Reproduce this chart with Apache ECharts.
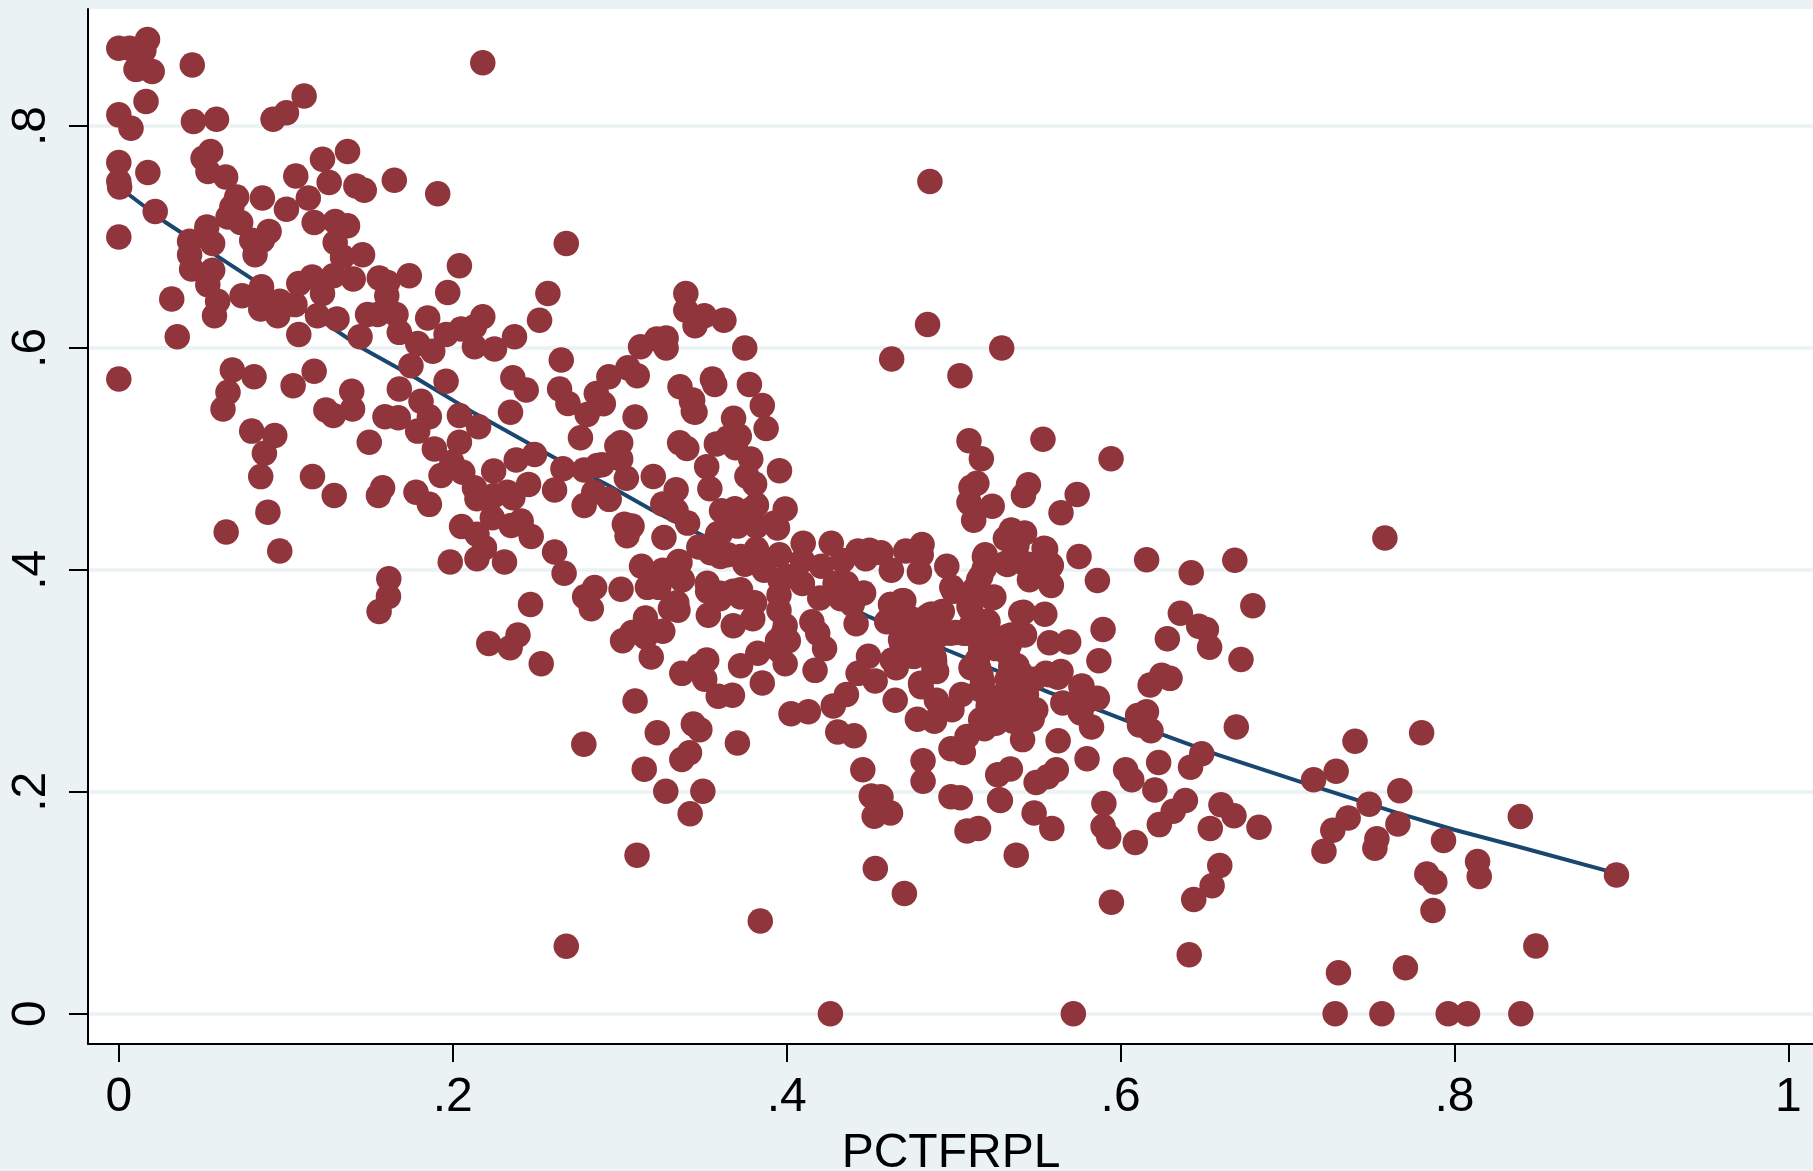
<!DOCTYPE html>
<html><head><meta charset="utf-8">
<style>html,body{margin:0;padding:0;background:#eaf2f3}#c{width:1813px;height:1171px}</style>
<script src="https://cdn.jsdelivr.net/npm/echarts@6/dist/echarts.min.js"></script>
</head><body><div id="c"></div>
<script>
const xTicks=[0,.2,.4,.6,.8,1];
const yTicks=[0,.2,.4,.6,.8];
const xTitle='PCTFRPL';
const fitLine=[[0,.745],[.0275,.7137],[.0596,.682],[.08,.662],[.124,.622],[.1456,.6],[.179,.572],[.2132,.541],[.2454,.514],[.2604,.5015],[.2925,.4767],[.3201,.4532],[.3498,.4308],[.4485,.3583],[.4967,.3273],[.5571,.2895],[.5895,.2722],[.6239,.2522],[.6583,.2332],[.7087,.2084],[.7661,.1808],[.7998,.1658],[.8378,.1507],[.897,.1265]];
const pointsUpperLeft=[[0,.87],[.0064,.87],[.0172,.878],[.015,.868],[.0103,.851],[.02,.849],[.044,.855],[.0163,.822],[0,.81],[.0073,.798],[.0447,.804],[.0585,.806],[.0924,.806],[.1004,.812],[.111,.827],[.218,.857],[0,.767],[0,.75],[.0005,.745],[.0174,.758],[.055,.777],[.0505,.771],[.0534,.759],[.064,.754],[.122,.77],[.137,.777],[.106,.755],[.126,.749],[.142,.746],[.147,.742],[.165,.751],[.191,.739],[.0706,.736],[.0677,.727],[.0654,.718],[.073,.713],[.086,.735],[.1004,.725],[.1135,.735],[.0218,.723],[0,.7],[.117,.713],[.1296,.714],[.137,.71],[.1296,.695],[.134,.682],[.09,.705],[.086,.697],[.0796,.697],[.0816,.684],[.0527,.709],[.0424,.696],[.0562,.694],[.0424,.684],[.0436,.671],[.0562,.67],[.0533,.657],[.0592,.642],[.0573,.629],[.146,.684],[.1404,.662],[.204,.674],[.268,.694],[.0317,.644],[.035,.61],[.0738,.647],[.0855,.655],[.085,.635],[.0952,.629],[.0964,.642],[.1055,.639],[.1078,.658],[.1158,.664],[.122,.649],[.1285,.665],[.119,.629],[.1307,.626],[.1078,.612],[.156,.663],[.161,.659],[.174,.665],[.1605,.647],[.166,.63],[.149,.63],[.155,.63],[.168,.614],[.1445,.61],[.185,.627],[.197,.65],[.179,.604],[.188,.597],[.196,.612],[.205,.617],[.213,.619],[.218,.628],[.213,.601],[.225,.599],[.237,.61],[.252,.625],[.257,.649],[.175,.584],[.168,.563],[.196,.57],[.236,.573],[.244,.562],[.265,.589],[.264,.563],[.269,.55],[.2805,.54],[.286,.559],[.2935,.574],[0,.572],[.068,.58],[.081,.574],[.0654,.56],[.0624,.545],[.117,.579],[.1044,.566],[.1395,.561],[.14,.545],[.124,.544],[.1285,.539],[.1594,.538],[.1674,.537],[.181,.552],[.186,.538],[.179,.525],[.204,.539],[.2155,.529],[.2346,.542],[.0796,.525],[.0934,.521],[.0872,.505],[.085,.484],[.15,.515],[.189,.509],[.204,.515],[.193,.485],[.206,.488],[.1995,.497],[.2245,.489],[.238,.499],[.249,.504],[.266,.491],[.2765,.519],[.2787,.49],[.2866,.494],[.261,.472],[.2787,.458],[.2454,.477],[.236,.465],[.2327,.47],[.2145,.464],[.213,.474],[.2247,.467],[.116,.484],[.129,.467],[.158,.474],[.1555,.467],[.178,.47],[.186,.459],[.0893,.452],[.0643,.434],[.0964,.417],[.2053,.439],[.2237,.447],[.2145,.432],[.235,.44],[.241,.444],[.247,.43],[.219,.42],[.2145,.41],[.1985,.407],[.231,.407],[.261,.416],[.2667,.397],[.1617,.392],[.1615,.376],[.1559,.3625]];
const pointsUpperMiddle=[[.3396,.649],[.3396,.634],[.3451,.62],[.3507,.629],[.3624,.625],[.3278,.609],[.3222,.608],[.3125,.601],[.3278,.6],[.3749,.6],[.3049,.582],[.3105,.575],[.3361,.565],[.3437,.553],[.3451,.542],[.3555,.572],[.3569,.567],[.3777,.567],[.4629,.59],[.4844,.621],[.5288,.6],[.5038,.575],[.4858,.75]];
const pointsMiddle=[[.2466,.3687],[.2391,.3412],[.2216,.3336],[.2344,.3298],[.253,.3153],[.285,.384],[.279,.3757],[.283,.365],[.3008,.3825],[.2785,.2429],[.268,.0608],[.3092,.5377],[.3006,.5146],[.2983,.5118],[.3006,.4998],[.304,.4825],[.3201,.4842],[.2894,.4946],[.2937,.4635],[.2845,.47],[.2902,.5496],[.3441,.5428],[.343,.552],[.3682,.5366],[.3854,.548],[.3877,.5273],[.3716,.5204],[.3647,.5187],[.3579,.5135],[.3693,.51],[.3359,.5146],[.3402,.5094],[.3785,.4998],[.3521,.493],[.354,.473],[.3762,.4843],[.3808,.4773],[.3957,.4894],[.3338,.4721],[.3258,.4594],[.3338,.4532],[.3407,.4421],[.3028,.441],[.3074,.4394],[.3044,.4308],[.3265,.4291],[.361,.4532],[.369,.455],[.3819,.4584],[.3705,.4394],[.3819,.4394],[.3991,.4549],[.3945,.4377],[.3587,.4325],[.3474,.4205],[.3544,.4153],[.3819,.4187],[.3647,.4135],[.375,.405],[.3865,.3997],[.3957,.4135],[.3361,.4066],[.3258,.3997],[.3131,.4032],[.3373,.3911],[.3166,.3842],[.3234,.3842],[.4099,.4239],[.4267,.4239],[.4094,.4084],[.4208,.4032],[.4335,.4084],[.4496,.4177],[.4427,.417],[.4473,.4101],[.4627,.3997],[.4565,.4153],[.4713,.417],[.4811,.4229],[.4806,.4135],[.4795,.398],[.4959,.4032],[.5184,.4118],[.396,.3911],[.4094,.3877],[.3954,.3773],[.3954,.3635],[.4198,.3746],[.429,.3877],[.4358,.3877],[.4461,.3791],[.4324,.3739],[.4393,.3687],[.4416,.3515],[.4599,.3532],[.4622,.3687],[.4702,.3722],[.4736,.3566],[.4863,.36],[.4932,.3625],[.4989,.3842],[.5184,.4015],[.5138,.3808],[.5241,.3756],[.5206,.3532],[.5058,.3429],[.4942,.3429],[.4817,.3377],[.4748,.3463],[.4691,.3325],[.476,.3222],[.4886,.3187],[.4898,.3084],[.4806,.3256],[.4632,.3187],[.449,.3222],[.4428,.3067],[.453,.2998],[.4656,.3118],[.465,.2825],[.4806,.2946],[.4897,.2825],[.4783,.2653],[.4885,.2635],[.5047,.2877],[.499,.2739],[.5149,.3118],[.4358,.2877],[.4279,.2774],[.4026,.2704],[.413,.2722],[.4306,.2539],[.4404,.2505],[.4456,.2198],[.4507,.1963],[.4565,.1956],[.4524,.178],[.4622,.1808],[.4531,.1308],[.4705,.1084],[.4817,.228],[.4817,.2095],[.4984,.1956],[.504,.1946],[.4984,.2387],[.5058,.2353],[.508,.2498],[.508,.1646],[.5149,.167],[.5264,.2153],[.5275,.1929],[.3154,.3566],[.3074,.3435],[.3017,.336],[.3154,.3394],[.3258,.3446],[.3189,.3215],[.3349,.3635],[.3304,.3652],[.3342,.3704],[.3531,.359],[.3527,.3808],[.36,.3739],[.368,.3808],[.3725,.3756],[.3808,.3704],[.3797,.3559],[.368,.3497],[.3991,.3497],[.398,.3429],[.3945,.336],[.3957,.3273],[.3991,.3153],[.4151,.3532],[.4186,.3429],[.4227,.329],[.417,.3094],[.401,.336],[.3827,.3249],[.3724,.3136],[.3521,.3187],[.3476,.3136],[.3372,.3067],[.3509,.3015],[.359,.286],[.3675,.2869],[.3854,.298],[.3092,.2818],[.3225,.2532],[.3441,.2611],[.348,.256],[.3705,.2439],[.3418,.2352],[.3372,.2291],[.3147,.2204],[.3276,.2005],[.3498,.2005],[.3422,.1801],[.3104,.1429],[.3842,.0836],[.4262,0]];
const pointsRight=[[.5535,.5177],[.5943,.5001],[.5092,.5163],[.5166,.5001],[.5139,.478],[.5104,.4745],[.5092,.4608],[.5231,.4574],[.512,.4446],[.5448,.4767],[.5418,.467],[.574,.4679],[.5643,.4515],[.6156,.409],[.6423,.3973],[.6684,.4087],[.7583,.4287],[.5751,.4121],[.5861,.3904],[.6792,.3677],[.6358,.3608],[.6468,.3491],[.6514,.3463],[.6533,.3302],[.628,.3379],[.5895,.3463],[.587,.318],[.6721,.3191],[.6246,.3049],[.6296,.3022],[.6177,.2963],[.6155,.2722],[.6102,.2687],[.6113,.2601],[.6182,.2549],[.6693,.2584],[.7404,.2456],[.6486,.2343],[.6419,.2222],[.6228,.2263],[.603,.2198],[.6067,.2108],[.6205,.2015],[.5799,.2298],[.5626,.246],[.7291,.2184],[.7156,.2108],[.6388,.1922],[.6315,.1825],[.6232,.1704],[.6601,.1884],[.6679,.1784],[.6537,.167],[.6829,.168],[.59,.1895],[.5895,.1688],[.5929,.1594],[.6088,.1542],[.7489,.1888],[.7363,.1763],[.7271,.1653],[.7218,.1463],[.7535,.1577],[.7523,.1491],[.7672,.201],[.7661,.171],[.6594,.1336],[.6548,.1153],[.6438,.1029],[.5945,.1005],[.6411,.0532],[.7305,.037],[.7706,.0415],[.5375,.1429],[.5482,.1808],[.5588,.167],[.528,.1922],[.534,.2205],[.5494,.2084],[.5563,.2136],[.5615,.2198],[.5345,.4359],[.5425,.4332],[.531,.4283],[.5379,.422],[.5551,.4187],[.5585,.4038],[.5585,.3859],[.5454,.3911],[.5322,.4049],[.5459,.4049],[.5189,.4135],[.515,.3911],[.523,.3746],[.5,.3808],[.5092,.367],[.5418,.3618],[.5546,.36],[.5425,.3412],[.5345,.3412],[.5574,.3342],[.5689,.3349],[.5184,.3532],[.5104,.3498],[.5012,.3436],[.4875,.36],[.4691,.3722],[.4623,.3687],[.4771,.3463],[.4794,.3325],[.4886,.3153],[.5162,.329],[.5253,.329],[.5334,.3325],[.5104,.3118],[.5379,.3136],[.5322,.3015],[.5552,.3067],[.5643,.3084],[.5624,.3032],[.5482,.3015],[.5769,.2953],[.5861,.2843],[.5792,.2808],[.5757,.2722],[.5826,.2584],[.5654,.2801],[.5482,.2722],[.547,.2653],[.5368,.2877],[.5356,.2635],[.5413,.247],[.5253,.2618],[.5184,.2567],[.5207,.2774],[.5173,.2998],[.5173,.2912],[.5298,.2877],[.5436,.2877],[.7803,.2531],[.7934,.1561],[.8138,.1372],[.8148,.1237],[.7834,.1259],[.7882,.1186],[.7871,.0931],[.897,.1249],[.8487,.061],[.8394,.1778],[.7285,0],[.7565,0],[.7962,0],[.8078,0],[.8397,0],[.5717,0]];
const pointsDenseCluster=[[.4722,.355],[.4842,.358],[.4762,.3369],[.4882,.3369],[.4682,.3369],[.4762,.3219],[.4882,.3219],[.4642,.3189],[.4882,.3114],[.4802,.2979],[.5162,.394],[.5122,.382],[.5102,.364],[.5182,.3519],[.5082,.3429],[.4982,.3429],[.5222,.3369],[.5322,.3399],[.5402,.361],[.5142,.3189],[.5162,.3069],[.5322,.3249],[.5342,.3129],[.5402,.3069],[.5362,.2889],[.5162,.2919],[.5252,.2769],[.5162,.2649],[.5362,.2769],[.5492,.2739],[.5422,.2634],[.5052,.2379],[.5572,.3054],[.5762,.2949],[.5762,.2709],[.5422,.406],[.5462,.394],[.5582,.3865],[.5582,.4045],[.5542,.4195],[.5312,.406],[.3644,.4511],[.3784,.4541],[.3604,.433],[.3924,.442],[.3504,.421],[.3604,.412],[.3724,.412],[.3864,.403],[.3524,.388],[.3604,.379],[.3724,.382],[.3374,.391],[.3354,.4075],[.3244,.3925],[.4004,.394],[.3334,.3655]];
const tickText=v=>v===0?'0':v===1?'1':String(v).replace(/^0/,'');
const chart=echarts.init(document.getElementById('c'),null,{renderer:'canvas'});
const axisColor='#000';
const textStyle={color:'#000',fontFamily:'"Liberation Sans",Arial,sans-serif',fontSize:48};
chart.setOption({
  animation:false,backgroundColor:'#eaf2f3',
  grid:{left:88,right:-1,top:9,bottom:127,show:true,backgroundColor:'#fff',borderWidth:0,outerBoundsMode:'none'},
  xAxis:{type:'value',min:-0.01845,max:1.0153,
    name:xTitle,nameLocation:'middle',nameGap:86,nameTextStyle:textStyle,
    axisLine:{onZero:false,lineStyle:{color:axisColor,width:2}},
    axisTick:{length:18,customValues:xTicks,lineStyle:{color:axisColor,width:2}},
    axisLabel:{...textStyle,margin:30,customValues:xTicks,formatter:tickText,hideOverlap:false},
    splitLine:{show:false}},
  yAxis:{type:'value',min:-0.0273,max:0.9054,
    axisLine:{onZero:false,lineStyle:{color:axisColor,width:2}},
    axisTick:{length:19,customValues:yTicks,lineStyle:{color:axisColor,width:2}},
    axisLabel:{...textStyle,margin:32,rotate:90,customValues:yTicks,formatter:tickText,hideOverlap:false},
    splitLine:{show:true,lineStyle:{color:'#eaf2f3',width:3.5}}},
  series:[
    {type:'line',data:fitLine,showSymbol:false,smooth:false,silent:true,z:2,lineStyle:{color:'#1a476f',width:4}},
    {type:'scatter',data:[...pointsUpperLeft,...pointsUpperMiddle,...pointsMiddle,...pointsRight,...pointsDenseCluster],symbol:'circle',symbolSize:25.5,z:3,itemStyle:{color:'#90353b',opacity:1}}
  ]
});
</script></body></html>
